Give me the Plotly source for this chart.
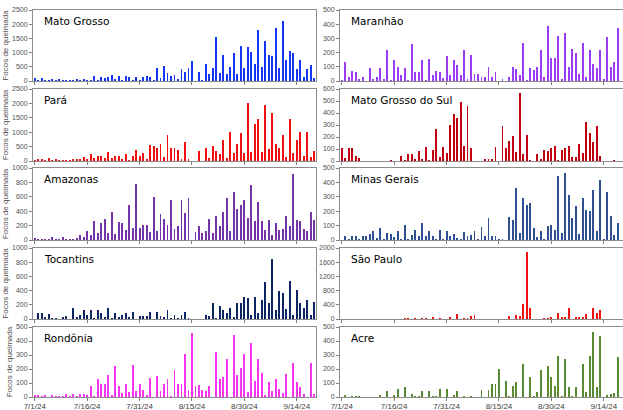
import plotly.graph_objects as go
import pandas as pd

# ---------------- data (daily fire counts, 7/1/24 .. 9/19/24) ----------------
start_date = "2024-07-01"
end_date = "2024-09-19"
tick_dates = ["2024-07-01", "2024-07-16", "2024-07-31", "2024-08-15", "2024-08-30", "2024-09-14"]
tick_labels = ["7/1/24", "7/16/24", "7/31/24", "8/15/24", "8/30/24", "9/14/24"]

mato_grosso = [100, 40, 100, 20, 40, 70, 30, 70, 40, 40, 30, 40, 70, 40, 70, 40, 40, 180, 40, 140,
               100, 140, 210, 60, 180, 40, 180, 150, 30, 150, 40, 150, 180, 150, 40, 460, 110, 530, 280, 180,
               210, 60, 430, 320, 460, 700, 0, 330, 30, 600, 250, 460, 1550, 290, 920, 250, 500, 990, 250, 1230,
               460, 1190, 1020, 600, 1800, 500, 1410, 920, 880, 1880, 460, 2110, 740, 1040, 980, 430, 740, 130, 420, 570,
               110]
para = [30, 60, 60, 20, 100, 40, 60, 40, 40, 30, 40, 70, 60, 60, 140, 60, 250, 100, 170, 170,
        100, 320, 110, 170, 170, 60, 250, 30, 170, 380, 170, 270, 60, 540, 520, 450, 590, 150, 900, 450,
        450, 390, 60, 660, 60, 0, 0, 350, 0, 450, 100, 530, 350, 240, 730, 100, 1010, 270, 580, 980,
        270, 2010, 310, 1290, 1470, 300, 1950, 410, 1680, 580, 440, 900, 140, 1470, 270, 730, 1010, 170, 1010, 140,
        350]
amazonas = [30, 10, 15, 15, 10, 40, 15, 15, 40, 10, 15, 10, 30, 70, 40, 130, 70, 260, 100, 240,
            290, 100, 390, 80, 250, 240, 140, 480, 170, 780, 170, 210, 210, 110, 600, 120, 360, 290, 210, 550,
            150, 200, 550, 380, 580, 0, 110, 190, 100, 120, 290, 100, 330, 190, 390, 590, 130, 660, 430, 480,
            560, 300, 760, 260, 530, 260, 140, 280, 70, 230, 140, 150, 330, 200, 920, 280, 260, 150, 120, 390,
            280]
tocantins = [0, 80, 90, 30, 70, 10, 20, 0, 30, 40, 0, 150, 30, 60, 120, 50, 120, 20, 130, 80,
             30, 150, 20, 90, 30, 50, 90, 30, 100, 0, 40, 40, 40, 100, 0, 100, 40, 30, 120, 20,
             60, 20, 60, 100, 20, 0, 0, 0, 0, 60, 40, 220, 10, 190, 130, 80, 160, 30, 220, 230,
             310, 300, 60, 310, 90, 270, 520, 220, 850, 130, 400, 360, 140, 540, 50, 410, 220, 150, 270, 50,
             240]
rondonia = [15, 15, 10, 15, 0, 15, 10, 10, 10, 20, 10, 20, 10, 20, 20, 15, 80, 10, 130, 90,
            90, 160, 15, 220, 80, 30, 90, 35, 230, 45, 90, 50, 15, 135, 0, 150, 45, 90, 130, 10,
            190, 95, 95, 310, 50, 460, 80, 85, 50, 45, 80, 0, 325, 130, 140, 270, 0, 445, 160, 210,
            310, 35, 385, 115, 270, 175, 15, 110, 45, 130, 60, 30, 165, 0, 240, 110, 70, 25, 0, 240,
            20]
maranhao = [10, 135, 25, 70, 65, 15, 25, 0, 90, 15, 30, 95, 15, 215, 10, 145, 100, 45, 95, 10,
            260, 60, 65, 145, 10, 155, 45, 70, 65, 20, 175, 45, 145, 110, 45, 215, 15, 180, 50, 50,
            30, 30, 100, 25, 60, 0, 15, 0, 25, 100, 85, 45, 265, 10, 90, 75, 100, 215, 30, 390,
            165, 160, 320, 15, 340, 100, 225, 200, 50, 265, 25, 220, 120, 95, 220, 15, 310, 100, 135, 375,
            0]
mato_grosso_do_sul = [110, 25, 110, 110, 40, 25, 0, 0, 0, 0, 0, 0, 0, 0, 10, 0, 0, 45, 10, 60,
                      60, 20, 85, 20, 120, 10, 95, 270, 35, 120, 70, 300, 395, 355, 490, 125, 460, 110, 0, 0,
                      0, 20, 20, 20, 120, 0, 295, 110, 170, 210, 75, 570, 60, 220, 10, 0, 60, 20, 95, 85,
                      110, 125, 10, 95, 110, 125, 35, 35, 145, 70, 325, 230, 160, 295, 45, 0, 0, 0, 10, 0,
                      0]
minas_gerais = [0, 30, 10, 30, 30, 5, 25, 25, 40, 65, 15, 85, 5, 50, 45, 20, 65, 5, 105, 10,
                35, 70, 25, 115, 30, 65, 30, 5, 70, 10, 65, 30, 45, 15, 5, 55, 25, 35, 60, 5,
                90, 25, 150, 30, 30, 5, 5, 0, 160, 140, 360, 50, 295, 240, 255, 85, 20, 65, 10, 100,
                105, 70, 445, 50, 465, 315, 150, 235, 45, 295, 205, 200, 345, 60, 415, 10, 330, 170, 35, 120,
                0]
sao_paulo = [5, 5, 5, 5, 5, 5, 5, 5, 5, 10, 5, 5, 5, 5, 10, 5, 5, 10, 30, 20,
             10, 30, 10, 30, 30, 10, 60, 10, 20, 5, 10, 60, 10, 150, 5, 20, 20, 90, 110, 5,
             5, 5, 5, 5, 5, 5, 5, 10, 80, 10, 110, 80, 420, 1880, 320, 10, 10, 10, 30, 20,
             50, 10, 180, 50, 60, 320, 10, 50, 50, 60, 150, 10, 320, 180, 260, 10, 10, 10, 10, 10,
             10]
acre = [0, 15, 0, 10, 10, 5, 0, 0, 0, 0, 0, 15, 0, 45, 0, 15, 60, 0, 75, 0,
        25, 10, 10, 45, 0, 45, 10, 10, 60, 0, 55, 0, 15, 40, 0, 5, 0, 10, 0, 0,
        50, 0, 50, 90, 90, 200, 0, 115, 10, 80, 110, 0, 235, 0, 145, 10, 35, 190, 0, 220,
        145, 80, 295, 10, 275, 75, 10, 75, 0, 235, 35, 290, 465, 75, 435, 0, 15, 20, 30, 285,
        0]

dates = pd.date_range(start_date, end_date, freq="D")

W, H = 623, 410
col_px = [(33, 316), (340, 623)]
row_px = [(10, 81), (89, 161), (168, 240), (248, 319), (327, 397)]

panels = [
    ("Mato Grosso", mato_grosso, "#1436F2", 2500, 500, 0, 0),
    ("Maranhão", maranhao, "#9A3BF5", 500, 100, 1, 0),
    ("Pará", para, "#F01010", 2500, 500, 0, 1),
    ("Mato Grosso do Sul", mato_grosso_do_sul, "#C00010", 600, 100, 1, 1),
    ("Amazonas", amazonas, "#7434A8", 1000, 200, 0, 2),
    ("Minas Gerais", minas_gerais, "#2E5092", 500, 100, 1, 2),
    ("Tocantins", tocantins, "#0D2562", 1000, 200, 0, 3),
    ("São Paulo", sao_paulo, "#F01010", 2000, 400, 1, 3),
    ("Rondônia", rondonia, "#F535F0", 500, 100, 0, 4),
    ("Acre", acre, "#5A8A32", 500, 100, 1, 4),
]

fig = go.Figure()
layout = dict(
    width=W, height=H, autosize=False,
    margin=dict(l=0, r=0, t=0, b=0, pad=0),
    paper_bgcolor="white", plot_bgcolor="white",
    showlegend=False, bargap=0,
    font=dict(family="Liberation Sans, Arial, sans-serif", color="#404040"),
)
annotations = []
day_ms = 86400000

for i, (name, vals, color, ymax, dt, c, r) in enumerate(panels, start=1):
    sfx = "" if i == 1 else str(i)
    x0, x1 = col_px[c]
    y0, y1 = row_px[r]
    fig.add_trace(go.Bar(
        x=dates, y=vals, xaxis="x" + sfx, yaxis="y" + sfx,
        marker=dict(color=color, line=dict(width=0)),
        width=0.55 * day_ms,
    ))
    layout["xaxis" + sfx] = dict(
        type="date", domain=[x0 / W, x1 / W], anchor="y" + sfx,
        range=["2024-06-30 12:00", "2024-09-19 12:00"],
        tickmode="array", tickvals=tick_dates, ticktext=tick_labels,
        ticks="outside", ticklen=3, tickcolor="#808080", tickwidth=1,
        showline=True, mirror=True, linecolor="#8c8c8c", linewidth=1,
        showgrid=False, zeroline=False, automargin=False,
        showticklabels=(r == 4), ticklabelstandoff=-2,
        tickfont=dict(size=8, color="#404040"),
    )
    yax = dict(
        domain=[1 - y1 / H, 1 - y0 / H], anchor="x" + sfx,
        range=[0, ymax], dtick=dt, tick0=0,
        ticks="outside", ticklen=3, tickcolor="#808080", tickwidth=1,
        showline=True, mirror=True, linecolor="#8c8c8c", linewidth=1,
        showgrid=False, zeroline=False, automargin=False,
        tickfont=dict(size=7, color="#505050"),
    )
    if c == 0:
        yax["title"] = dict(text="Focos de queimada", font=dict(size=8, color="#505050"), standoff=2)
    layout["yaxis" + sfx] = yax
    annotations.append(dict(
        text=name, xref="paper", yref="paper",
        x=(x0 + 9) / W, y=1 - (y0 + 11) / H,
        xanchor="left", yanchor="middle", showarrow=False,
        font=dict(size=10.5, color="black", family="DejaVu Sans, sans-serif"),
    ))

layout["annotations"] = annotations
fig.update_layout(**layout)
fig.write_html(
    "out.html",
    config={"displayModeBar": False, "staticPlot": True},
    post_script="document.documentElement.style.margin='0';document.body.style.margin='0';"
                "document.body.style.overflow='hidden';",
)
